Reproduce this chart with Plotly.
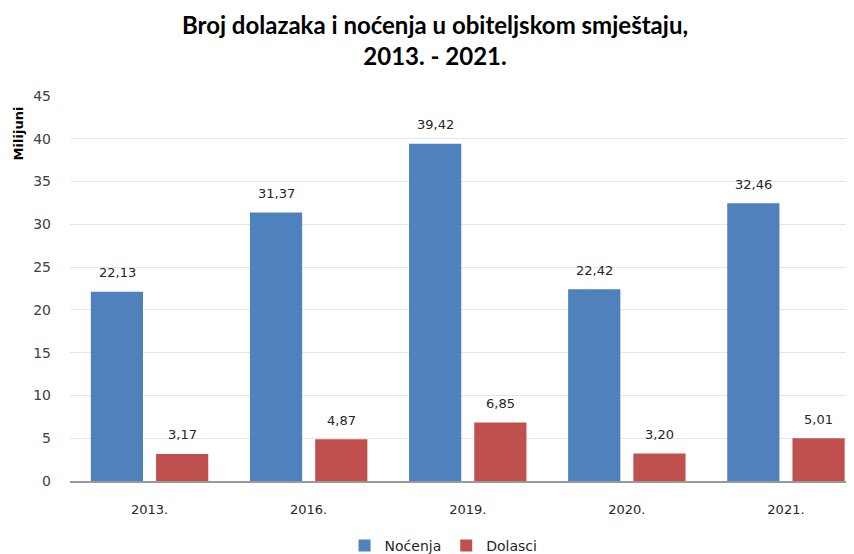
import plotly.graph_objects as go

## DATA ##
years = ["2013.", "2016.", "2019.", "2020.", "2021."]
nocenja = [22.13, 31.37, 39.42, 22.42, 32.46]
dolasci = [3.17, 4.87, 6.85, 3.20, 5.01]

colors = {"Noćenja": "#4F81BD", "Dolasci": "#C0504D"}
series = (("Noćenja", nocenja, -32.5), ("Dolasci", dolasci, 32.5))

fig = go.Figure()
for name, vals, _ in series:
    fig.add_trace(go.Bar(
        x=years, y=vals, name=name,
        marker=dict(color=colors[name], line=dict(width=0)),
    ))

# data labels above the bars (shifted to each bar of the group)
for name, vals, shift in series:
    for i, v in enumerate(vals):
        fig.add_annotation(
            x=i, y=v, xref="x", yref="y",
            text=f"{v:.2f}".replace(".", ","),
            showarrow=False, xshift=shift, yshift=19,
            yanchor="middle", xanchor="center",
            font=dict(family="DejaVu Sans", size=13, color="#262626"),
        )

fig.update_layout(
    width=854, height=554,
    margin=dict(l=62, r=0, t=88, b=81, autoexpand=False),
    plot_bgcolor="white", paper_bgcolor="white",
    barmode="group", bargap=0.18, bargroupgap=0.2,
    title=dict(
        text="Broj dolazaka i noćenja u obiteljskom smještaju,<br>2013. - 2021.",
        x=0.5, xanchor="center", y=0.953, yanchor="top",
        font=dict(family="Lato", size=24, color="black", weight="bold"),
    ),
    xaxis=dict(
        type="category",
        range=[-0.5, 4.478],
        showline=True, linecolor="#999999", linewidth=2,
        ticks="", showgrid=False,
        ticklabelstandoff=15,
        tickfont=dict(family="DejaVu Sans", size=13, color="#262626"),
    ),
    yaxis=dict(
        range=[0, 45], dtick=5, tick0=0,
        showgrid=True, gridcolor="#e6e6e6", gridwidth=1,
        zeroline=False, showline=False, ticks="",
        ticklabelstandoff=18,
        tickfont=dict(family="DejaVu Sans", size=14, color="#404040"),
    ),
    legend=dict(
        orientation="h", xref="container", yref="container",
        x=0.51, xanchor="center", y=0.0, yanchor="bottom",
        font=dict(family="DejaVu Sans", size=14, color="#262626"),
        itemwidth=30, traceorder="normal",
    ),
    showlegend=True,
)

fig.add_annotation(
    text="<b>Milijuni</b>", textangle=-90,
    xref="paper", yref="paper", x=-0.053, y=0.977,
    xanchor="right", yanchor="top", showarrow=False,
    font=dict(family="DejaVu Sans", size=13, color="black"),
)

fig.write_html("out.html")
